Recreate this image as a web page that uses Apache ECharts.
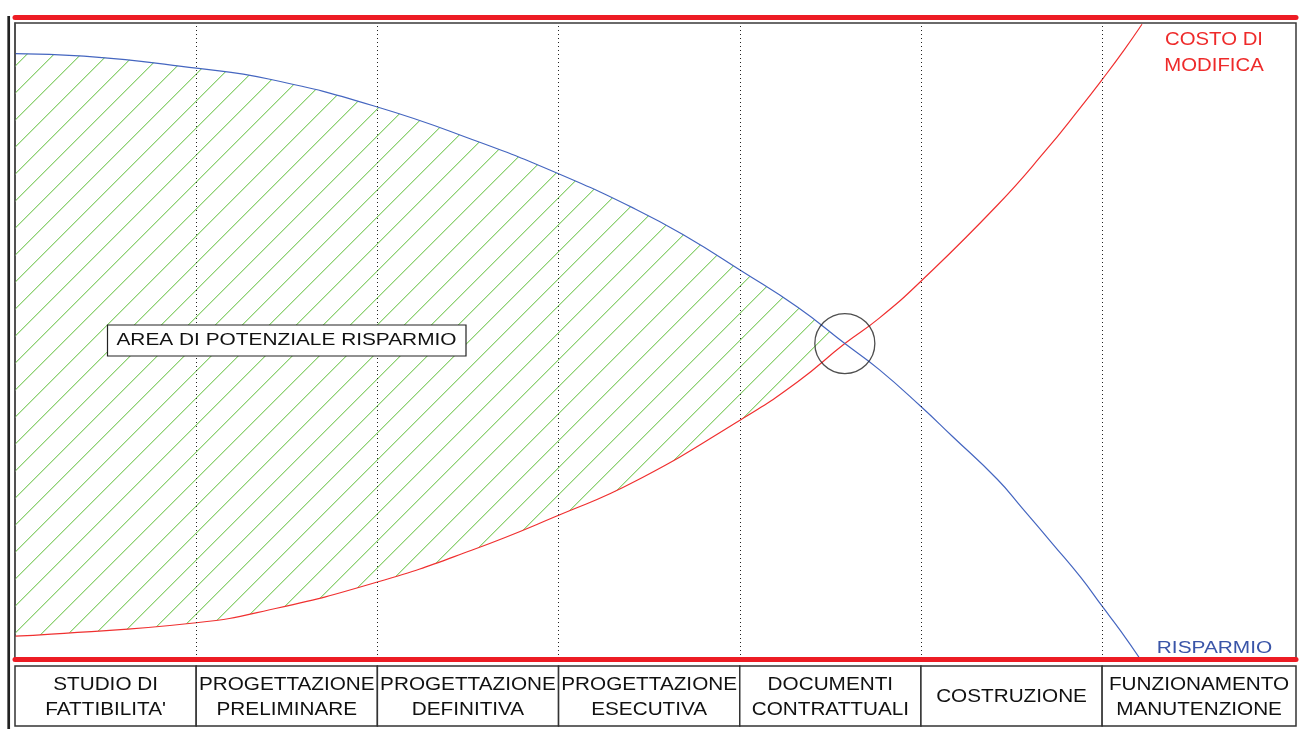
<!DOCTYPE html>
<html>
<head>
<meta charset="utf-8">
<style>
  html, body { margin: 0; padding: 0; background: #fff; }
  #chart { width: 1299px; height: 729px; }
</style>
<script src="https://cdn.jsdelivr.net/npm/echarts@6/dist/echarts.min.js"></script>
</head>
<body>
<div id="chart"></div>
<script>
// Project phases (x axis in phase units; last phase runs to the right frame)
const stageNames = [
  "STUDIO DI\nFATTIBILITA'",
  'PROGETTAZIONE\nPRELIMINARE',
  'PROGETTAZIONE\nDEFINITIVA',
  'PROGETTAZIONE\nESECUTIVA',
  'DOCUMENTI\nCONTRATTUALI',
  'COSTRUZIONE',
  'FUNZIONAMENTO\nMANUTENZIONE'
];
const stageEdges = [0, 1, 2, 3, 4, 5, 6, 7.07];

// "RISPARMIO" curve (savings potential, 0-100)
const savingsX = [0, 0.38, 1.00, 1.40, 2.00, 2.55, 3.00, 3.42, 3.70, 4.01, 4.32, 4.58, 4.77, 5.00, 5.17, 5.42, 5.56, 5.73, 5.88, 6.00, 6.10, 6.21];
const savingsY = [95.2, 94.8, 92.9, 91.2, 86.8, 81.4, 76.3, 70.8, 66.5, 61.0, 55.3, 49.6, 45.5, 39.7, 35.1, 28.3, 23.7, 18.0, 12.9, 8.3, 4.5, 0];

// "COSTO DI MODIFICA" curve (cost of changes, 0-100)
const costX = [0, 0.20, 1.00, 1.40, 2.00, 2.52, 3.00, 3.42, 4.01, 4.32, 4.58, 4.77, 5.00, 5.42, 5.69, 5.88, 6.00, 6.12, 6.22];
const costY = [3.6, 3.9, 5.7, 7.7, 12.1, 17.1, 22.6, 27.9, 37.7, 43.6, 49.6, 53.6, 59.4, 71.3, 80.0, 86.7, 91.1, 95.7, 99.8];

// Point where the two curves cross
const crossing = [4.58, 49.6];

const savingsData = savingsX.map((x, i) => [x, savingsY[i]]);
const costData = costX.map((x, i) => [x, costY[i]]);

// Diagonal hatch tile: one light green diagonal per 27px tile, with a soft edge pixel
function makeHatch() {
  const s = 27;
  const c = document.createElement('canvas');
  c.width = s; c.height = s;
  const ctx = c.getContext('2d');
  for (let i = 0; i < s; i++) {
    ctx.fillStyle = '#8ed175';
    ctx.fillRect(i, s - 1 - i, 1, 1);
    ctx.fillStyle = '#cbeabd';
    ctx.fillRect((i + 1) % s, s - 1 - i, 1, 1);
  }
  return c;
}

const FONT = '"Liberation Sans", Arial, sans-serif';
const chart = echarts.init(document.getElementById('chart'));

chart.setOption({
  animation: false,
  backgroundColor: '#fff',
  grid: [
    { left: 15, top: 23, right: 3, height: 636, show: true, borderColor: '#3a3a3a', borderWidth: 1.5, backgroundColor: 'transparent' },
    { left: 15, top: 666, right: 3, height: 60 }
  ],
  xAxis: [
    {
      type: 'value', gridIndex: 0, min: 0, max: 7.07, z: 10,
      axisLine: { show: true, lineStyle: { color: '#ed1c24', width: 5 } },
      axisTick: { show: false }, axisLabel: { show: false }, splitLine: { show: false }
    },
    {
      type: 'value', gridIndex: 0, min: 0, max: 7.07, position: 'top', offset: 5.5, z: 10,
      axisLine: { show: true, lineStyle: { color: '#ed1c24', width: 5 } },
      axisTick: { show: false }, axisLabel: { show: false }, splitLine: { show: false }
    },
    {
      type: 'value', gridIndex: 1, min: 0, max: 7.07, show: false
    }
  ],
  yAxis: [
    {
      type: 'value', gridIndex: 0, min: 0, max: 100, z: 10,
      axisLine: { show: true, lineStyle: { color: '#4a4a4a', width: 1.5 } },
      axisTick: { show: false }, axisLabel: { show: false }, splitLine: { show: false }
    },
    { type: 'value', gridIndex: 1, min: 0, max: 1, show: false }
  ],
  series: [
    // hatched area under the savings curve
    {
      type: 'line', xAxisIndex: 0, yAxisIndex: 0, data: savingsData,
      smooth: true, symbol: 'none', silent: true, z: 1,
      lineStyle: { width: 0, opacity: 0 },
      areaStyle: { color: { image: makeHatch(), repeat: 'repeat' }, opacity: 1 }
    },
    // white fill under the cost curve keeps the hatch between the two curves
    {
      type: 'line', xAxisIndex: 0, yAxisIndex: 0, data: costData,
      smooth: true, symbol: 'none', silent: true, z: 2,
      lineStyle: { width: 0, opacity: 0 },
      areaStyle: { color: '#ffffff', opacity: 1 }
    },
    {
      name: 'COSTO DI MODIFICA', type: 'line', xAxisIndex: 0, yAxisIndex: 0, data: costData,
      smooth: true, symbol: 'none', z: 4,
      lineStyle: { color: '#f03030', width: 1.2 }
    },
    {
      name: 'RISPARMIO', type: 'line', xAxisIndex: 0, yAxisIndex: 0, data: savingsData,
      smooth: true, symbol: 'none', z: 4,
      lineStyle: { color: '#4566c0', width: 1.2 },
      markLine: {
        silent: true, symbol: ['none', 'none'], label: { show: false },
        lineStyle: { color: '#222', width: 1, type: [1, 3] },
        data: stageEdges.slice(1, -1).map(x => ({ xAxis: x }))
      }
    },
    // circle around the crossing point
    {
      type: 'scatter', xAxisIndex: 0, yAxisIndex: 0, data: [crossing], z: 5,
      symbol: 'circle', symbolSize: 60, silent: true,
      itemStyle: { color: 'rgba(0,0,0,0)', borderColor: '#222', borderWidth: 1.3 }
    },
    // phase table under the chart
    {
      type: 'custom', xAxisIndex: 2, yAxisIndex: 1, silent: true,
      data: stageNames.map((n, i) => [stageEdges[i], stageEdges[i + 1], i]),
      renderItem: function (params, api) {
        const tl = api.coord([api.value(0), 1]);
        const br = api.coord([api.value(1), 0]);
        return {
          type: 'group',
          children: [
            {
              type: 'rect',
              shape: { x: tl[0], y: tl[1], width: br[0] - tl[0], height: br[1] - tl[1] },
              style: { fill: '#fff', stroke: '#333', lineWidth: 1.5 }
            },
            {
              type: 'text',
              x: (tl[0] + br[0]) / 2, y: (tl[1] + br[1]) / 2 + 1, scaleX: 1.12,
              style: {
                text: stageNames[api.value(2)], fill: '#111',
                font: '18.5px ' + FONT, lineHeight: 25,
                align: 'center', verticalAlign: 'middle'
              }
            }
          ]
        };
      }
    }
  ],
  graphic: [
    { type: 'line', shape: { x1: 8.7, y1: 16, x2: 8.7, y2: 729 }, style: { stroke: '#222', lineWidth: 2.7 }, z: 50 },
    { type: 'rect', shape: { x: 107.5, y: 325, width: 358.5, height: 31 }, style: { fill: '#fff', stroke: '#222', lineWidth: 1.2 }, z: 100 },
    {
      type: 'text', x: 286.5, y: 341, scaleX: 1.28, z: 101,
      style: { text: 'AREA DI POTENZIALE RISPARMIO', fill: '#111', font: '16.3px ' + FONT, align: 'center', verticalAlign: 'middle' }
    },
    {
      type: 'text', x: 1214, y: 53, scaleX: 1.1, z: 101,
      style: { text: 'COSTO DI\nMODIFICA', fill: '#ee2a2a', font: '18.5px ' + FONT, lineHeight: 26, align: 'center', verticalAlign: 'middle' }
    },
    {
      type: 'text', x: 1214.5, y: 649, scaleX: 1.28, z: 101,
      style: { text: 'RISPARMIO', fill: '#3a55a8', font: '16.3px ' + FONT, align: 'center', verticalAlign: 'middle' }
    }
  ]
});
</script>
</body>
</html>
